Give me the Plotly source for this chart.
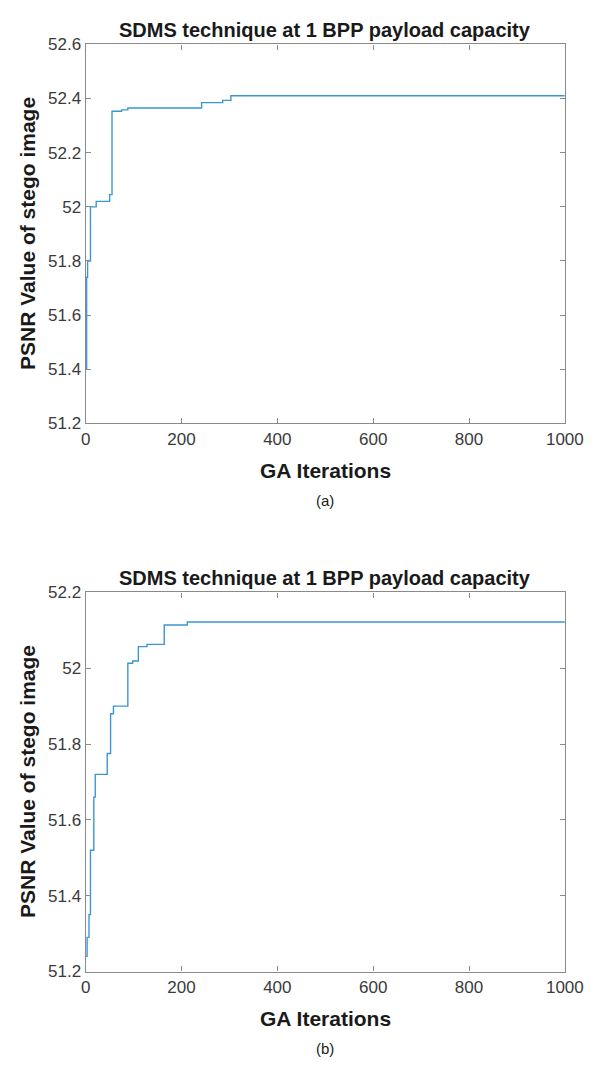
import plotly.graph_objects as go

# ---- data ----
iters_a = [1, 2, 4, 10, 22, 50, 55, 75, 88, 242, 286, 303, 1000]
psnr_a = [51.40, 51.74, 51.80, 52.00, 52.02, 52.045, 52.353, 52.358, 52.365, 52.385, 52.393, 52.41, 52.41]

iters_b = [1, 3, 7, 10, 17, 20, 45, 52, 58, 88, 98, 110, 128, 164, 212, 1000]
psnr_b = [51.24, 51.29, 51.35, 51.52, 51.66, 51.72, 51.775, 51.88, 51.90, 52.013, 52.019, 52.057, 52.063, 52.114, 52.122, 52.122]

x_ticks = [0, 200, 400, 600, 800, 1000]
y_ticks_a = [51.2, 51.4, 51.6, 51.8, 52.0, 52.2, 52.4, 52.6]
y_tick_labels_a = ["51.2", "51.4", "51.6", "51.8", "52", "52.2", "52.4", "52.6"]
y_ticks_b = [51.2, 51.4, 51.6, 51.8, 52.0, 52.2]
y_tick_labels_b = ["51.2", "51.4", "51.6", "51.8", "52", "52.2"]

title_text = "SDMS technique at 1 BPP payload capacity"
xlabel_text = "GA Iterations"
ylabel_text = "PSNR Value of stego image"

W, H = 604, 1066
FONT = "Liberation Sans, Arial, sans-serif"
LINE = "#3b97d2"
AX = "#8a8a8a"

def px_x(p):
    return p / W

def px_y(p):
    return 1 - p / H

fig = go.Figure()
fig.add_trace(go.Scatter(x=iters_a, y=psnr_a, mode="lines", line=dict(color=LINE, width=1.4, shape="hv"),
                         xaxis="x", yaxis="y", showlegend=False, hoverinfo="skip"))
fig.add_trace(go.Scatter(x=iters_b, y=psnr_b, mode="lines", line=dict(color=LINE, width=1.4, shape="hv"),
                         xaxis="x2", yaxis="y2", showlegend=False, hoverinfo="skip"))

xdom = [px_x(84), px_x(583)]
ydom_a = [px_y(422), px_y(36)]
ydom_b = [px_y(980), px_y(594)]

axis_common = dict(showline=True, linecolor=AX, linewidth=1.3, mirror="ticks", ticks="inside",
                   ticklen=5, tickcolor=AX, tickwidth=1, showgrid=False, zeroline=False,
                   tickfont=dict(family=FONT, size=17, color="#3a3a3a"))

fig.update_layout(
    width=W, height=H, margin=dict(l=0, r=0, t=0, b=0),
    paper_bgcolor="white", plot_bgcolor="white",
    xaxis=dict(domain=xdom, range=[0, 1000], tickvals=x_ticks, anchor="y", **axis_common),
    yaxis=dict(domain=ydom_a, range=[51.2, 52.6], tickvals=y_ticks_a, ticktext=y_tick_labels_a, anchor="x", **axis_common),
    xaxis2=dict(domain=xdom, range=[0, 1000], tickvals=x_ticks, anchor="y2", **axis_common),
    yaxis2=dict(domain=ydom_b, range=[51.2, 52.2], tickvals=y_ticks_b, ticktext=y_tick_labels_b, anchor="x2", **axis_common),
)

cx = px_x(333.5)
ann = []
for top, bot, tag in [(36, 422, "(a)"), (594, 980, "(b)")]:
    ann.append(dict(text="<b>%s</b>" % title_text, x=cx, y=px_y(top - 15), xref="paper", yref="paper",
                    showarrow=False, xanchor="center", yanchor="middle",
                    font=dict(family=FONT, size=20, color="#1a1a1a")))
    ann.append(dict(text="<b>%s</b>" % xlabel_text, x=cx, y=px_y(bot + 48), xref="paper", yref="paper",
                    showarrow=False, xanchor="center", yanchor="middle",
                    font=dict(family=FONT, size=21, color="#1a1a1a")))
    ann.append(dict(text="<b>%s</b>" % ylabel_text, x=px_x(24), y=px_y((top + bot) / 2), xref="paper", yref="paper",
                    showarrow=False, xanchor="center", yanchor="middle", textangle=-90,
                    font=dict(family=FONT, size=21, color="#1a1a1a")))
    ann.append(dict(text=tag, x=cx, y=px_y(bot + 78), xref="paper", yref="paper",
                    showarrow=False, xanchor="center", yanchor="middle",
                    font=dict(family=FONT, size=15, color="#1a1a1a")))
fig.update_layout(annotations=ann)

fig.write_html("out.html", config={"displayModeBar": False},
               post_script="document.body.style.margin='0';document.body.style.overflow='hidden';")
